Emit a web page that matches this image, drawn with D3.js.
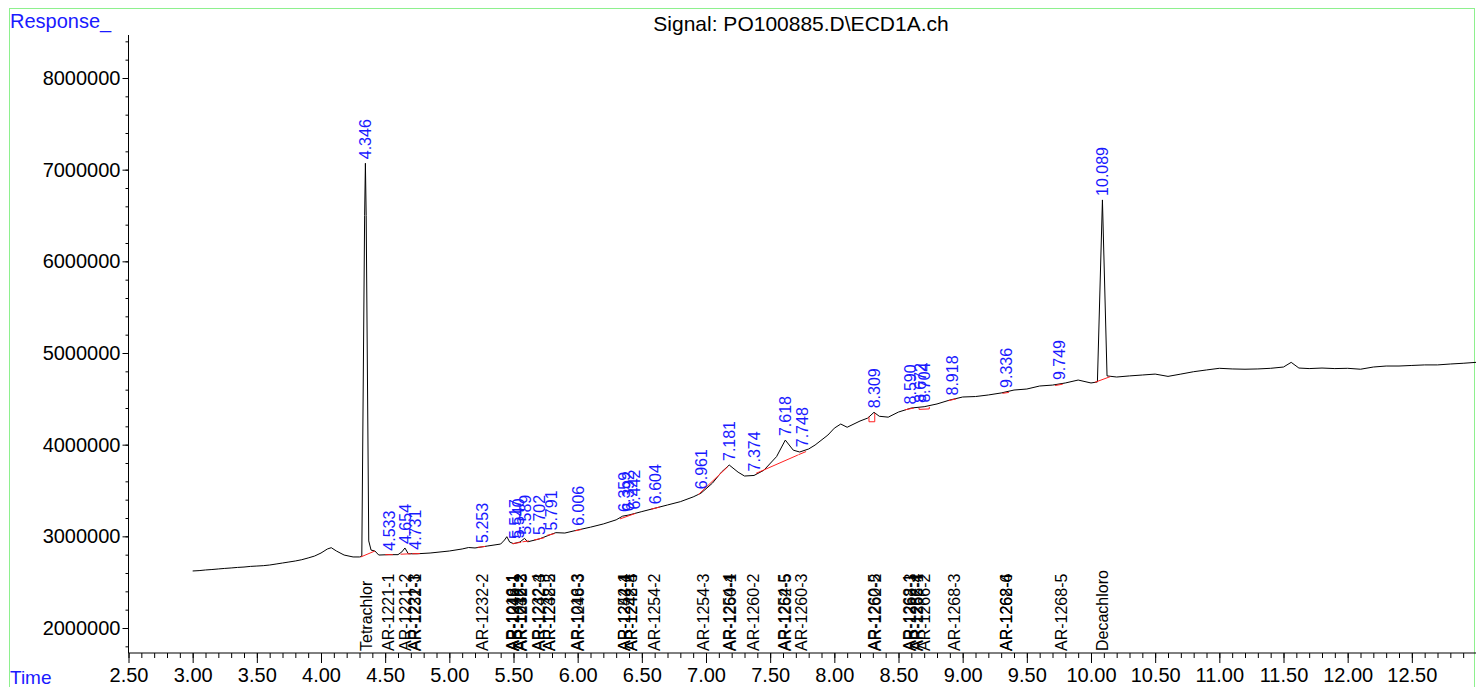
<!DOCTYPE html>
<html>
<head>
<meta charset="utf-8">
<script src="https://cdn.jsdelivr.net/npm/d3@7"></script>
<style>
  body { margin: 0; background: #fff; }
  svg { display: block; font-family: "Liberation Sans", Arial, sans-serif; }
</style>
</head>
<body>
<svg id="chart" width="1476" height="687"></svg>
<script>
// Chromatogram signal, [time (min), response]
const trace = [
  [3.00, 2622000], [3.05, 2626000], [3.10, 2633000], [3.15, 2638000], [3.20, 2644000],
  [3.25, 2650000], [3.30, 2655000], [3.35, 2661000], [3.40, 2665000], [3.45, 2672000],
  [3.50, 2676000], [3.55, 2680000], [3.60, 2687000], [3.65, 2698000], [3.70, 2709000],
  [3.75, 2720000], [3.80, 2731000], [3.85, 2745000], [3.90, 2764000], [3.95, 2785000],
  [4.00, 2818000], [4.05, 2862000], [4.08, 2876000], [4.12, 2840000], [4.18, 2796000],
  [4.25, 2775000], [4.30, 2775000], [4.318, 2782000], [4.34, 6500000], [4.346, 7070000],
  [4.352, 6500000], [4.372, 2950000], [4.39, 2850000], [4.42, 2840000], [4.45, 2796000],
  [4.53, 2800000], [4.60, 2800000], [4.63, 2830000], [4.654, 2873000], [4.68, 2810000],
  [4.75, 2810000], [4.85, 2818000], [5.00, 2840000], [5.10, 2862000], [5.15, 2878000],
  [5.20, 2873000], [5.30, 2895000], [5.40, 2916000], [5.43, 2960000], [5.448, 2996000],
  [5.47, 2938000], [5.50, 2920000], [5.55, 2938000], [5.586, 2978000], [5.61, 2940000],
  [5.70, 2971000], [5.80, 3025000], [5.83, 3040000], [5.90, 3036000], [6.00, 3069000],
  [6.10, 3100000], [6.20, 3135000], [6.30, 3180000], [6.35, 3220000], [6.40, 3233000],
  [6.50, 3270000], [6.60, 3306000], [6.70, 3342000], [6.80, 3378000], [6.90, 3430000],
  [6.96, 3470000], [7.05, 3580000], [7.12, 3700000], [7.181, 3778000], [7.25, 3700000],
  [7.30, 3658000], [7.374, 3664000], [7.45, 3720000], [7.55, 3870000], [7.618, 4050000],
  [7.68, 3940000], [7.73, 3920000], [7.80, 3953000], [7.85, 3996000], [7.95, 4105000],
  [8.00, 4180000], [8.05, 4225000], [8.10, 4190000], [8.20, 4258000], [8.26, 4290000],
  [8.309, 4353000], [8.35, 4310000], [8.42, 4300000], [8.50, 4356000], [8.60, 4400000],
  [8.70, 4414000], [8.80, 4444000], [8.90, 4487000], [9.00, 4520000], [9.10, 4525000],
  [9.20, 4542000], [9.30, 4564000], [9.40, 4596000], [9.50, 4607000], [9.60, 4640000],
  [9.70, 4650000], [9.80, 4673000], [9.90, 4705000], [10.00, 4673000], [10.05, 4684000],
  [10.089, 6670000], [10.125, 4750000], [10.20, 4738000], [10.30, 4750000], [10.40, 4760000],
  [10.50, 4770000], [10.60, 4745000], [10.70, 4770000], [10.80, 4796000], [10.90, 4815000],
  [11.00, 4833000], [11.10, 4826000], [11.20, 4823000], [11.30, 4826000], [11.40, 4833000],
  [11.50, 4847000], [11.56, 4898000], [11.62, 4836000], [11.70, 4830000], [11.80, 4836000],
  [11.90, 4830000], [12.00, 4833000], [12.10, 4823000], [12.20, 4847000], [12.30, 4858000],
  [12.40, 4858000], [12.50, 4864000], [12.60, 4870000], [12.70, 4870000], [12.80, 4880000],
  [12.90, 4888000], [13.00, 4898000]
];

// integration baselines, [t1, v1, t2, v2]
const baselines = [
  [4.31, 2775000, 4.42, 2840000],
  [4.50, 2800000, 4.56, 2800000],
  [4.62, 2805000, 4.70, 2810000],
  [4.71, 2810000, 4.77, 2812000],
  [5.22, 2880000, 5.28, 2890000],
  [5.49, 2920000, 5.56, 2935000],
  [5.57, 2940000, 5.62, 2950000],
  [5.66, 2960000, 5.74, 2985000],
  [5.76, 3010000, 5.82, 3030000],
  [5.98, 3060000, 6.03, 3075000],
  [6.33, 3190000, 6.45, 3250000],
  [6.57, 3295000, 6.64, 3320000],
  [6.94, 3455000, 7.17, 3760000],
  [7.39, 3687000, 7.716, 3887000],
  [7.72, 3890000, 7.78, 3925000],
  [8.27, 4305000, 8.27, 4250000],
  [8.27, 4250000, 8.315, 4250000],
  [8.315, 4250000, 8.315, 4345000],
  [8.55, 4380000, 8.62, 4400000],
  [8.66, 4400000, 8.66, 4385000],
  [8.66, 4385000, 8.74, 4390000],
  [8.74, 4390000, 8.74, 4412000],
  [8.89, 4480000, 8.95, 4500000],
  [9.31, 4560000, 9.36, 4570000],
  [9.72, 4645000, 9.78, 4660000],
  [10.03, 4680000, 10.15, 4742000]
];

// retention times shown above the peaks
const peakTimes = [4.346, 4.533, 4.654, 4.731, 5.253, 5.517, 5.540, 5.589, 5.702, 5.791,
  6.006, 6.359, 6.392, 6.442, 6.604, 6.961, 7.181, 7.374, 7.618, 7.748, 8.309, 8.590,
  8.672, 8.704, 8.918, 9.336, 9.749, 10.089];

// expected compound windows along the time axis
const compounds = [
  ["Tetrachlor", 4.350], ["AR-1221-1", 4.526], ["AR-1221-2", 4.656], ["AR-1221-3", 4.726],
  ["AR-1232-1", 4.733], ["AR-1232-2", 5.256], ["AR-1016-1", 5.490], ["AR-1242-1", 5.495],
  ["AR-1248-1", 5.500], ["AR-1016-2", 5.550], ["AR-1242-2", 5.555], ["AR-1232-3", 5.560],
  ["AR-1232-4", 5.695], ["AR-1242-3", 5.700], ["AR-1232-5", 5.775], ["AR-1248-2", 5.780],
  ["AR-1016-3", 6.000], ["AR-1248-3", 6.004], ["AR-1254-1", 6.360], ["AR-1242-4", 6.365],
  ["AR-1248-4", 6.415], ["AR-1242-5", 6.420], ["AR-1254-2", 6.600], ["AR-1254-3", 6.976],
  ["AR-1254-4", 7.180], ["AR-1260-1", 7.186], ["AR-1260-2", 7.365], ["AR-1254-5", 7.610],
  ["AR-1262-5", 7.616], ["AR-1260-3", 7.742], ["AR-1260-5", 8.310], ["AR-1262-2", 8.316],
  ["AR-1268-1", 8.585], ["AR-1262-3", 8.590], ["AR-1262-4", 8.640], ["AR-1266-1", 8.645],
  ["AR-1266-2", 8.704], ["AR-1268-3", 8.937], ["AR-1262-6", 9.338], ["AR-1268-4", 9.342],
  ["AR-1268-5", 9.769], ["Decachloro", 10.090]
];

const xTicks = d3.range(2.5, 13.0, 0.5);
const yTicks = [2000000, 3000000, 4000000, 5000000, 6000000, 7000000, 8000000];

const svg = d3.select('#chart');
const blue = '#1a1aff';

const x = d3.scaleLinear().domain([2.5, 13.0]).range([128.5, 1476]);
const y = d3.scaleLinear().domain([2000000, 8000000]).range([628, 78]);
const axisY = 653;
const axisTop = 35;

// frame
svg.append('rect')
  .attr('x', 9.5).attr('y', 8.5)
  .attr('width', 1465).attr('height', 700)
  .attr('fill', 'none')
  .attr('stroke', '#8ef08e')
  .attr('stroke-width', 1);

svg.append('text')
  .attr('x', 10).attr('y', 28)
  .attr('fill', blue).attr('font-size', 20)
  .text('Response_');

svg.append('text')
  .attr('x', 10).attr('y', 684)
  .attr('fill', blue).attr('font-size', 19)
  .text('Time');

svg.append('text')
  .attr('x', 801).attr('y', 31)
  .attr('text-anchor', 'middle').attr('font-size', 21)
  .text('Signal: PO100885.D\\ECD1A.ch');

// y axis
const yAxis = d3.axisLeft(y)
  .tickValues(d3.range(1800000, 8400001, 200000))
  .tickSize(3)
  .tickFormat('');
const yG = svg.append('g').attr('transform', 'translate(128.5,0)').call(yAxis);
yG.select('.domain').remove();
yG.append('line')
  .attr('y1', axisTop).attr('y2', axisY)
  .attr('stroke', '#000');
const yMajor = svg.append('g').attr('transform', 'translate(128.5,0)')
  .call(d3.axisLeft(y).tickValues(yTicks).tickSize(6).tickPadding(2)
    .tickFormat(d3.format('d')));
yMajor.select('.domain').remove();
yMajor.selectAll('text').attr('font-size', 20).attr('fill', '#000')
  .attr('font-family', '"Liberation Sans", Arial, sans-serif');

// x axis
const xG = svg.append('g').attr('transform', `translate(0,${axisY})`)
  .call(d3.axisBottom(x).tickValues(d3.range(25, 130).map(d => d / 10)).tickSize(5).tickFormat(''));
xG.select('.domain').remove();
xG.append('line').attr('x1', 128.5).attr('x2', 1476).attr('stroke', '#000');
const xMajor = svg.append('g').attr('transform', `translate(0,${axisY})`)
  .call(d3.axisBottom(x).tickValues(xTicks).tickSize(10).tickPadding(5)
    .tickFormat(d3.format('.2f')));
xMajor.select('.domain').remove();
xMajor.selectAll('text').attr('font-size', 20).attr('fill', '#000')
  .attr('font-family', '"Liberation Sans", Arial, sans-serif');

// signal trace
const line = d3.line().x(d => x(d[0])).y(d => y(d[1]));
svg.append('path')
  .datum(trace)
  .attr('d', line)
  .attr('fill', 'none')
  .attr('stroke', '#000')
  .attr('stroke-width', 1);

// baselines
svg.append('g').selectAll('line')
  .data(baselines)
  .join('line')
  .attr('x1', d => x(d[0])).attr('y1', d => y(d[1]))
  .attr('x2', d => x(d[2])).attr('y2', d => y(d[3]))
  .attr('stroke', '#ff2020')
  .attr('stroke-width', 1);

// peak labels, placed just above the trace
const bis = d3.bisector(d => d[0]).left;
function respAt(t) {
  const i = Math.max(1, Math.min(trace.length - 1, bis(trace, t)));
  const a = trace[i - 1], b = trace[i];
  const f = (t - a[0]) / (b[0] - a[0]);
  return a[1] + f * (b[1] - a[1]);
}
svg.append('g').selectAll('text')
  .data(peakTimes)
  .join('text')
  .attr('transform', d => `translate(${x(d)},${y(respAt(d)) - 4}) rotate(-90)`)
  .attr('dy', '0.36em')
  .attr('font-size', 16)
  .attr('fill', blue)
  .text(d => d.toFixed(3));

// compound labels along the axis
svg.append('g').selectAll('text')
  .data(compounds)
  .join('text')
  .attr('transform', d => `translate(${x(d[1])},${axisY - 2}) rotate(-90)`)
  .attr('dy', '0.36em')
  .attr('font-size', 16)
  .attr('fill', '#000')
  .text(d => d[0]);
</script>
</body>
</html>
